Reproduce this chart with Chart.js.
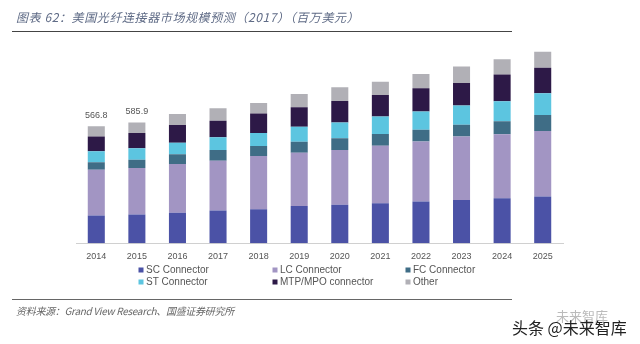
<!DOCTYPE html>
<html>
<head>
<meta charset="utf-8">
<script src="https://cdn.jsdelivr.net/npm/chart.js@4/dist/chart.umd.min.js"></script>
<style>
  html, body { margin: 0; padding: 0; background: #fff; }
  #wrap { position: relative; width: 640px; height: 344px; overflow: hidden; }
  #chart { position: absolute; left: 0; top: 0; }
  .title { position: absolute; left: 16px; top: 8px; font: italic 12px "Noto Sans CJK SC", sans-serif; color: #5f6b86; white-space: nowrap; letter-spacing: 0.6px; }
  .rule { position: absolute; left: 12px; width: 500px; height: 1px; background: #444; }
  .source { position: absolute; left: 16px; top: 303px; font: italic 10px "Noto Sans CJK SC", sans-serif; color: #666; white-space: nowrap; letter-spacing: -0.3px; }
  .wm1 { position: absolute; left: 556px; top: 306px; font: 13px "Noto Sans CJK SC", sans-serif; color: #bbb; }
  .wm2 { position: absolute; left: 512px; top: 315px; font: 16px "Noto Sans CJK SC", sans-serif; color: #222; white-space: nowrap; }
</style>
</head>
<body>
<div id="wrap">
  <canvas id="chart" width="640" height="344"></canvas>
  <div class="title">图表 62：美国光纤连接器市场规模预测（2017）（百万美元）</div>
  <div class="rule" style="top:31px"></div>
  <div class="rule" style="top:299px; background:#666"></div>
  <div class="source">资料来源：Grand View Research、国盛证券研究所</div>
  <div class="wm1">未来智库</div>
  <div class="wm2">头条 @未来智库</div>
</div>
<script>
var years = ["2014", "2015", "2016", "2017", "2018", "2019", "2020", "2021", "2022", "2023", "2024", "2025"];

// 百万美元 (bottom to top)
var scConnector  = [134, 139, 148, 158, 165, 181, 186, 194, 202, 210, 218, 226];
var lcConnector  = [222, 226, 236, 242, 258, 258, 266, 278, 291, 307, 310, 318];
var fcConnector  = [37, 40, 47, 52, 48, 53, 57, 58, 57, 57, 64, 78];
var stConnector  = [53, 55, 56, 62, 64, 73, 76, 84, 89, 94, 97, 105];
var mtpConnector = [72, 74, 86, 80, 94, 94, 105, 105, 113, 109, 129, 124];
var otherConn    = [48.8, 51.9, 53, 60, 51, 64, 66, 64, 69, 80, 74, 78];

// only the first two bars carry a total label
var totalLabels = ["566.8", "585.9", "", "", "", "", "", "", "", "", "", ""];

var seriesNames = ["SC Connector", "LC Connector", "FC Connector", "ST Connector", "MTP/MPO connector", "Other"];
var seriesColors = ["#4b52a6", "#a295c3", "#3f6d86", "#5cc5e0", "#2d1947", "#b1b0b6"];
var seriesData = [scConnector, lcConnector, fcConnector, stConnector, mtpConnector, otherConn];

var datasets = seriesData.map(function (d, i) {
    return {
        label: seriesNames[i],
        data: d,
        backgroundColor: seriesColors[i],
        borderWidth: 0,
        barPercentage: 0.42,
        categoryPercentage: 1.0
    };
});

// total labels above the stacks
var totalLabelPlugin = {
    id: "totalLabels",
    afterDatasetsDraw: function (chart) {
        var ctx = chart.ctx;
        var y = chart.scales.y;
        var x = chart.scales.x;
        ctx.save();
        ctx.font = "9px 'Liberation Sans', Arial, sans-serif";
        ctx.fillStyle = "#555";
        ctx.textAlign = "center";
        ctx.textBaseline = "bottom";
        for (var i = 0; i < years.length; i++) {
            if (!totalLabels[i]) continue;
            var sum = 0;
            seriesData.forEach(function (d) { sum += d[i]; });
            ctx.fillText(totalLabels[i], x.getPixelForValue(i), y.getPixelForValue(sum) - 6);
        }
        ctx.restore();
    }
};

// legend in 3 columns x 2 rows like the original
var gridLegendPlugin = {
    id: "gridLegend",
    afterDraw: function (chart) {
        var ctx = chart.ctx;
        var colX = [141, 275, 408];
        var rowY = [270, 282];
        ctx.save();
        ctx.font = "10px 'Liberation Sans', Arial, sans-serif";
        ctx.textBaseline = "middle";
        ctx.textAlign = "left";
        for (var i = 0; i < seriesNames.length; i++) {
            var cx = colX[i % 3];
            var cy = rowY[Math.floor(i / 3)];
            ctx.fillStyle = seriesColors[i];
            ctx.fillRect(cx - 2.5, cy - 2.5, 5, 5);
            ctx.fillStyle = "#555";
            ctx.fillText(seriesNames[i], cx + 5, cy);
        }
        ctx.restore();
    }
};

var chart = new Chart(document.getElementById("chart").getContext("2d"), {
    type: "bar",
    data: { labels: years, datasets: datasets },
    plugins: [totalLabelPlugin, gridLegendPlugin],
    options: {
        responsive: false,
        animation: false,
        layout: { padding: { left: 76, right: 77, top: 37, bottom: 82 } },
        plugins: {
            legend: { display: false },
            tooltip: { enabled: false }
        },
        scales: {
            x: {
                stacked: true,
                grid: { display: false },
                border: { display: true, color: "#d0d0d0", width: 1 },
                ticks: {
                    color: "#555",
                    font: { family: "'Liberation Sans', Arial, sans-serif", size: 9 },
                    padding: 0,
                    maxRotation: 0
                }
            },
            y: {
                stacked: true,
                display: false,
                min: 0,
                max: 1000
            }
        }
    }
});
</script>
</body>
</html>
